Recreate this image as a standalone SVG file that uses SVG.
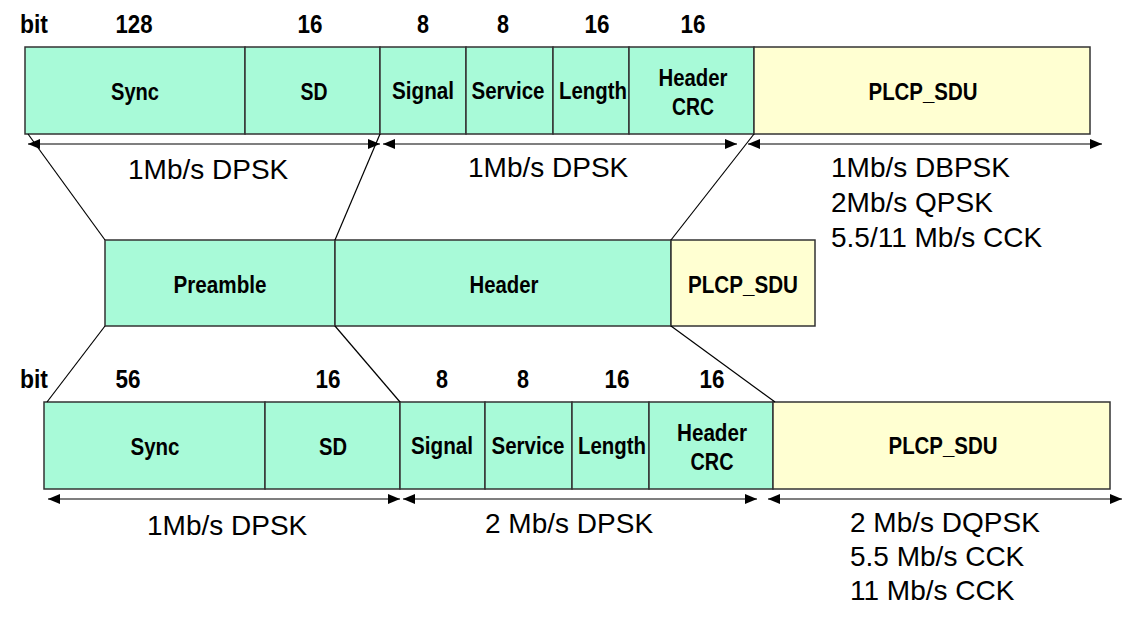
<svg xmlns="http://www.w3.org/2000/svg" width="1142" height="618" viewBox="0 0 1142 618">
<style>
.g{fill:#a8fad8;stroke:#333;stroke-width:1.5}
.y{fill:#ffffd2;stroke:#333;stroke-width:1.5}
.b{font-family:"Liberation Sans Narrow","Arial Narrow","Liberation Sans",sans-serif;font-weight:bold;font-size:24px;fill:#000;text-anchor:middle}
.n{font-size:25.5px}
.r{font-family:"Liberation Sans",Arial,sans-serif;font-size:28px;fill:#000}
.ln{stroke:#000;stroke-width:1.2;fill:none}
.ar{stroke:#000;stroke-width:1.2;marker-start:url(#ah);marker-end:url(#ah)}
</style>
<defs>
<marker id="ah" viewBox="0 0 12 10" refX="12" refY="5" markerWidth="12" markerHeight="10" markerUnits="userSpaceOnUse" orient="auto-start-reverse">
<path d="M0,0 L12,5 L0,10 Z" fill="#000"/>
</marker>
</defs>
<rect width="1142" height="618" fill="#fff"/>

<g id="top-bits">
<text class="b n" x="34" y="33" textLength="28" lengthAdjust="spacingAndGlyphs">bit</text>
<text class="b n" x="134" y="33" textLength="37" lengthAdjust="spacingAndGlyphs">128</text>
<text class="b n" x="310" y="33" textLength="25" lengthAdjust="spacingAndGlyphs">16</text>
<text class="b n" x="423" y="33" textLength="12" lengthAdjust="spacingAndGlyphs">8</text>
<text class="b n" x="503" y="33" textLength="12" lengthAdjust="spacingAndGlyphs">8</text>
<text class="b n" x="597" y="33" textLength="25" lengthAdjust="spacingAndGlyphs">16</text>
<text class="b n" x="693" y="33" textLength="25" lengthAdjust="spacingAndGlyphs">16</text>
</g>
<g id="top-sync"><rect class="g" x="25" y="47" width="220" height="87"/><text class="b" x="135" y="100" textLength="48" lengthAdjust="spacingAndGlyphs">Sync</text></g>
<g id="top-sd"><rect class="g" x="245" y="47" width="135" height="87"/><text class="b" x="314" y="100" textLength="27" lengthAdjust="spacingAndGlyphs">SD</text></g>
<g id="top-signal"><rect class="g" x="380" y="47" width="86" height="87"/><text class="b" x="423" y="99" textLength="62" lengthAdjust="spacingAndGlyphs">Signal</text></g>
<g id="top-service"><rect class="g" x="466" y="47" width="87" height="87"/><text class="b" x="508" y="99" textLength="73" lengthAdjust="spacingAndGlyphs">Service</text></g>
<g id="top-length"><rect class="g" x="553" y="47" width="76" height="87"/><text class="b" x="593" y="99" textLength="68" lengthAdjust="spacingAndGlyphs">Length</text></g>
<g id="top-crc"><rect class="g" x="629" y="47" width="125" height="87"/><text class="b" x="693" y="86" textLength="69" lengthAdjust="spacingAndGlyphs">Header</text><text class="b" x="693" y="115" textLength="42" lengthAdjust="spacingAndGlyphs">CRC</text></g>
<g id="top-sdu"><rect class="y" x="754" y="47" width="336" height="87"/><text class="b" x="923" y="100" textLength="109" lengthAdjust="spacingAndGlyphs">PLCP_SDU</text></g>

<g id="mid-preamble"><rect class="g" x="105" y="240" width="230" height="86"/><text class="b" x="220" y="293" textLength="93" lengthAdjust="spacingAndGlyphs">Preamble</text></g>
<g id="mid-header"><rect class="g" x="335" y="240" width="336" height="86"/><text class="b" x="504" y="293" textLength="69" lengthAdjust="spacingAndGlyphs">Header</text></g>
<g id="mid-sdu"><rect class="y" x="671" y="240" width="144" height="86"/><text class="b" x="743" y="293" textLength="110" lengthAdjust="spacingAndGlyphs">PLCP_SDU</text></g>

<g id="bot-bits">
<text class="b n" x="34" y="388" textLength="28" lengthAdjust="spacingAndGlyphs">bit</text>
<text class="b n" x="128" y="388" textLength="25" lengthAdjust="spacingAndGlyphs">56</text>
<text class="b n" x="328" y="388" textLength="25" lengthAdjust="spacingAndGlyphs">16</text>
<text class="b n" x="442" y="388" textLength="12" lengthAdjust="spacingAndGlyphs">8</text>
<text class="b n" x="523" y="388" textLength="12" lengthAdjust="spacingAndGlyphs">8</text>
<text class="b n" x="617" y="388" textLength="25" lengthAdjust="spacingAndGlyphs">16</text>
<text class="b n" x="712" y="388" textLength="25" lengthAdjust="spacingAndGlyphs">16</text>
</g>
<g id="bot-sync"><rect class="g" x="44" y="402" width="221" height="87"/><text class="b" x="155" y="455" textLength="49" lengthAdjust="spacingAndGlyphs">Sync</text></g>
<g id="bot-sd"><rect class="g" x="265" y="402" width="135" height="87"/><text class="b" x="333" y="455" textLength="28" lengthAdjust="spacingAndGlyphs">SD</text></g>
<g id="bot-signal"><rect class="g" x="400" y="402" width="85" height="87"/><text class="b" x="442" y="454" textLength="62" lengthAdjust="spacingAndGlyphs">Signal</text></g>
<g id="bot-service"><rect class="g" x="485" y="402" width="87" height="87"/><text class="b" x="528" y="454" textLength="73" lengthAdjust="spacingAndGlyphs">Service</text></g>
<g id="bot-length"><rect class="g" x="572" y="402" width="77" height="87"/><text class="b" x="612" y="454" textLength="68" lengthAdjust="spacingAndGlyphs">Length</text></g>
<g id="bot-crc"><rect class="g" x="649" y="402" width="124" height="87"/><text class="b" x="712" y="441" textLength="70" lengthAdjust="spacingAndGlyphs">Header</text><text class="b" x="712" y="470" textLength="43" lengthAdjust="spacingAndGlyphs">CRC</text></g>
<g id="bot-sdu"><rect class="y" x="773" y="402" width="337" height="87"/><text class="b" x="943" y="454" textLength="109" lengthAdjust="spacingAndGlyphs">PLCP_SDU</text></g>

<g id="connectors">
<line class="ln" x1="28" y1="134" x2="105" y2="240"/>
<line class="ln" x1="380" y1="134" x2="335" y2="240"/>
<line class="ln" x1="754" y1="134" x2="671" y2="240"/>
<line class="ln" x1="105" y1="326" x2="47" y2="402"/>
<line class="ln" x1="335" y1="326" x2="400" y2="402"/>
<line class="ln" x1="671" y1="326" x2="775" y2="402"/>
<line class="ar" x1="28" y1="144" x2="380" y2="144"/>
<line class="ar" x1="383" y1="144" x2="737" y2="144"/>
<line class="ar" x1="748" y1="144" x2="1102" y2="144"/>
<line class="ar" x1="48" y1="499" x2="400" y2="499"/>
<line class="ar" x1="403" y1="499" x2="757" y2="499"/>
<line class="ar" x1="768" y1="499" x2="1122" y2="499"/>
</g>

<g id="rates">
<text class="r" x="128" y="179">1Mb/s DPSK</text>
<text class="r" x="468" y="177">1Mb/s DPSK</text>
<text class="r" x="831" y="177">1Mb/s DBPSK</text>
<text class="r" x="831" y="212">2Mb/s QPSK</text>
<text class="r" x="831" y="247">5.5/11 Mb/s CCK</text>
<text class="r" x="147" y="535">1Mb/s DPSK</text>
<text class="r" x="485" y="533">2 Mb/s DPSK</text>
<text class="r" x="850" y="532">2 Mb/s DQPSK</text>
<text class="r" x="850" y="566">5.5 Mb/s CCK</text>
<text class="r" x="850" y="600">11 Mb/s CCK</text>
</g>
</svg>
